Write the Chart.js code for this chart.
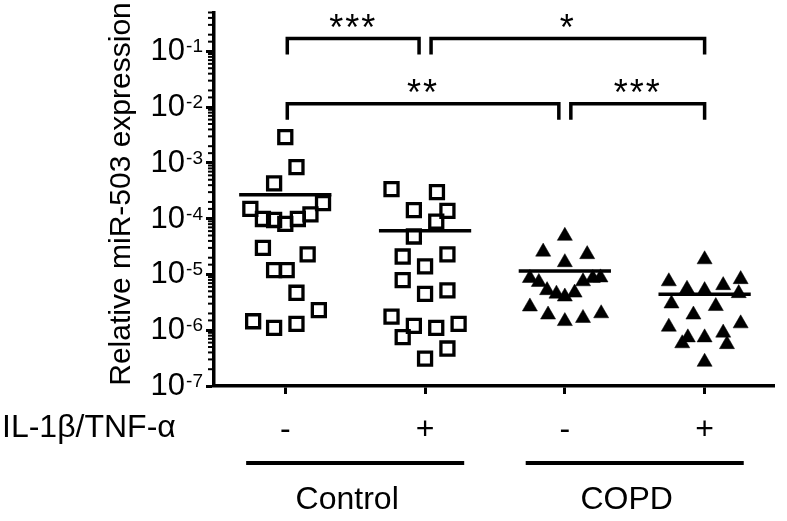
<!DOCTYPE html>
<html>
<head>
<meta charset="utf-8">
<script src="https://cdn.jsdelivr.net/npm/chart.js@4.4.0/dist/chart.umd.min.js"></script>
<style>
  html, body { margin: 0; padding: 0; background: #fff; }
</style>
</head>
<body>
<canvas id="chart" width="787" height="521"></canvas>
<script>
const FONT = '"Liberation Sans", Arial, sans-serif';

// x positions of the four columns and their treatment labels
const categories = [1, 2, 3, 4];
const treatment = ['-', '+', '-', '+'];
const groups = [
  { label: 'Control', from: 1, to: 2 },
  { label: 'COPD', from: 3, to: 4 }
];

// relative miR-503 expression (jitter = horizontal offset in column units)
const ctrlMinus = [2.9e-3, 8.4e-4, 4.3e-4, 1.9e-4, 1.5e-4, 9.9e-5, 9.5e-5, 8.1e-5, 9.9e-5, 1.2e-4,
  3.0e-5, 2.3e-5, 1.2e-5, 1.2e-5, 4.7e-6, 2.3e-6, 1.45e-6, 1.1e-6, 1.3e-6];
const ctrlMinusJit = [0, 0.08, -0.08, 0.27, -0.25, -0.16, -0.08, 0, 0.09, 0.18,
  -0.16, 0.16, -0.08, 0.01, 0.08, 0.24, -0.23, -0.08, 0.08];

const ctrlPlus = [3.4e-4, 3.0e-4, 1.43e-4, 1.38e-4, 8.9e-5, 4.8e-5, 2.1e-5, 2.3e-5, 1.4e-5, 7.9e-6,
  4.5e-6, 5.2e-6, 1.75e-6, 1.2e-6, 1.1e-6, 1.3e-6, 7.5e-7, 4.7e-7, 3.1e-7];
const ctrlPlusJit = [-0.24, 0.085, -0.08, 0.16, 0.08, -0.08, -0.16, 0.16, 0, -0.16,
  0, 0.16, -0.24, -0.08, 0.08, 0.24, -0.16, 0.16, 0];

const copdMinus = [4.9e-5, 2.55e-5, 2.3e-5, 1.65e-5, 8.6e-6, 7.3e-6, 5.2e-6, 4.5e-6, 4.0e-6, 4.7e-6,
  7.5e-6, 8.6e-6, 8.8e-6, 2.65e-6, 1.9e-6, 1.45e-6, 1.65e-6, 2.0e-6];
const copdMinusJit = [0, -0.155, 0.16, 0, -0.25, -0.186, -0.127, -0.06, 0, 0.07,
  0.13, 0.2, 0.255, -0.25, -0.12, 0, 0.13, 0.26];

const copdPlus = [1.86e-5, 7.5e-6, 8.2e-6, 5.5e-6, 5.2e-6, 6.4e-6, 4.6e-6, 3.0e-6, 2.7e-6, 1.9e-6,
  1.15e-6, 1.32e-6, 7.4e-7, 7.4e-7, 9.0e-7, 5.8e-7, 5.6e-7, 2.7e-7];
const copdPlusJit = [0, -0.256, 0.258, -0.126, 0, 0.133, 0.244, -0.237, 0.08, -0.08,
  -0.256, 0.258, -0.12, 0, 0.133, -0.16, 0.16, 0];

const means = [2.7e-4, 6.1e-5, 1.15e-5, 4.4e-6];

// significance brackets
const comparisons = [
  { from: 1, to: 2, y: 0.17, label: '***' },
  { from: 2, to: 4, y: 0.17, label: '*' },
  { from: 1, to: 3, y: 0.0115, label: '**' },
  { from: 3, to: 4, y: 0.0115, label: '***' }
];

const isPow10 = v => Math.abs(Math.log10(v) - Math.round(Math.log10(v))) < 1e-9;

const points = (cat, vals, jit) => vals.map((v, i) => ({ x: cat + jit[i], y: v }));

const meanSets = means.map((m, i) => ({
  data: [{ x: categories[i] - 0.33, y: m }, { x: categories[i] + 0.33, y: m }],
  showLine: true, borderColor: '#000', borderWidth: 3.5, pointRadius: 0, order: 0
}));

const squares = { pointStyle: 'rect', radius: 9.2, borderWidth: 3.3, borderColor: '#000', backgroundColor: 'rgba(0,0,0,0)', order: 1 };
const triangles = { pointStyle: 'triangle', radius: 8.7, borderWidth: 0.5, borderColor: '#000', backgroundColor: '#000', order: 1 };

const annotate = {
  id: 'annotate',
  afterDraw(chart) {
    const { ctx, chartArea, scales: { x, y } } = chart;
    ctx.save();
    ctx.fillStyle = '#000';
    ctx.strokeStyle = '#000';

    // minor ticks of the log axis
    ctx.lineWidth = 2;
    y.ticks.forEach(t => {
      if (isPow10(t.value)) return;
      const py = y.getPixelForValue(t.value);
      ctx.beginPath();
      ctx.moveTo(chartArea.left - 6, py);
      ctx.lineTo(chartArea.left, py);
      ctx.stroke();
    });

    // 10^n labels
    ctx.textAlign = 'right';
    ctx.textBaseline = 'alphabetic';
    y.ticks.forEach(t => {
      if (!isPow10(t.value)) return;
      const py = y.getPixelForValue(t.value);
      const exp = String(Math.round(Math.log10(t.value)));
      const right = chartArea.left - 11;
      ctx.font = '19px ' + FONT;
      const ew = ctx.measureText(exp).width;
      ctx.fillText(exp, right, py + 1);
      ctx.font = '31px ' + FONT;
      ctx.fillText('10', right - ew - 1, py + 9);
    });

    // axis title
    ctx.save();
    ctx.translate(130, 194);
    ctx.rotate(-Math.PI / 2);
    ctx.textAlign = 'center';
    ctx.font = '30px ' + FONT;
    ctx.fillText('Relative miR-503 expression', 0, 0);
    ctx.restore();

    // treatment row label
    ctx.textAlign = 'left';
    ctx.textBaseline = 'middle';
    ctx.font = '32px ' + FONT;
    ctx.fillText('IL-1\u03B2/TNF-\u03B1', 2, 428);

    // group lines and names
    ctx.lineWidth = 4;
    groups.forEach(g => {
      const x1 = x.getPixelForValue(g.from - 0.28);
      const x2 = x.getPixelForValue(g.to + 0.28);
      ctx.beginPath();
      ctx.moveTo(x1, 463);
      ctx.lineTo(x2, 463);
      ctx.stroke();
      ctx.textAlign = 'center';
      ctx.fillText(g.label, (x1 + x2) / 2 - 8, 500);
    });

    // significance brackets
    ctx.lineWidth = 3.5;
    ctx.lineJoin = 'miter';
    comparisons.forEach(c => {
      const shared = end => comparisons.some(o => o !== c && o.y === c.y && (o.from === end || o.to === end));
      const x1 = x.getPixelForValue(c.from) + (shared(c.from) ? 6 : 2);
      const x2 = x.getPixelForValue(c.to) - (shared(c.to) ? 6 : 0);
      const py = y.getPixelForValue(c.y);
      ctx.beginPath();
      ctx.moveTo(x1, py + 16);
      ctx.lineTo(x1, py);
      ctx.lineTo(x2, py);
      ctx.lineTo(x2, py + 16);
      ctx.stroke();
      ctx.font = '36px ' + FONT;
      ctx.textAlign = 'center';
      ctx.textBaseline = 'alphabetic';
      ctx.letterSpacing = '2px';
      ctx.fillText(c.label, (x1 + x2) / 2, py + 1);
      ctx.letterSpacing = '0px';
    });
    ctx.restore();
  }
};

new Chart(document.getElementById('chart'), {
  type: 'scatter',
  data: {
    datasets: [
      ...meanSets,
      { data: points(categories[0], ctrlMinus, ctrlMinusJit), ...squares },
      { data: points(categories[1], ctrlPlus, ctrlPlusJit), ...squares },
      { data: points(categories[2], copdMinus, copdMinusJit), ...triangles },
      { data: points(categories[3], copdPlus, copdPlusJit), ...triangles }
    ]
  },
  options: {
    responsive: false,
    animation: false,
    devicePixelRatio: 1,
    layout: { padding: { left: 0, top: 8, right: 7, bottom: 0 } },
    plugins: { legend: { display: false }, tooltip: { enabled: false } },
    scales: {
      x: {
        type: 'linear',
        min: 0.49,
        max: 4.5,
        afterBuildTicks: s => { s.ticks = categories.map(v => ({ value: v })); },
        afterFit: s => { s.height = 135; },
        grid: { display: true, drawOnChartArea: false, drawTicks: true, tickLength: 8, tickWidth: 3, tickColor: '#000' },
        border: { display: true, color: '#000', width: 3.5 },
        ticks: {
          padding: 17,
          color: '#000',
          autoSkip: false,
          maxRotation: 0,
          font: { family: FONT, size: 32 },
          callback: v => treatment[categories.indexOf(v)]
        }
      },
      y: {
        type: 'logarithmic',
        min: 1e-7,
        max: 0.5,
        afterFit: s => { s.width = 214; },
        grid: {
          display: true, drawOnChartArea: false, drawTicks: true, tickLength: 8, tickWidth: 3,
          tickColor: c => (c.tick && isPow10(c.tick.value)) ? '#000' : 'rgba(0,0,0,0)'
        },
        border: { display: true, color: '#000', width: 3.5 },
        ticks: { display: false }
      }
    }
  },
  plugins: [annotate]
});
</script>
</body>
</html>
